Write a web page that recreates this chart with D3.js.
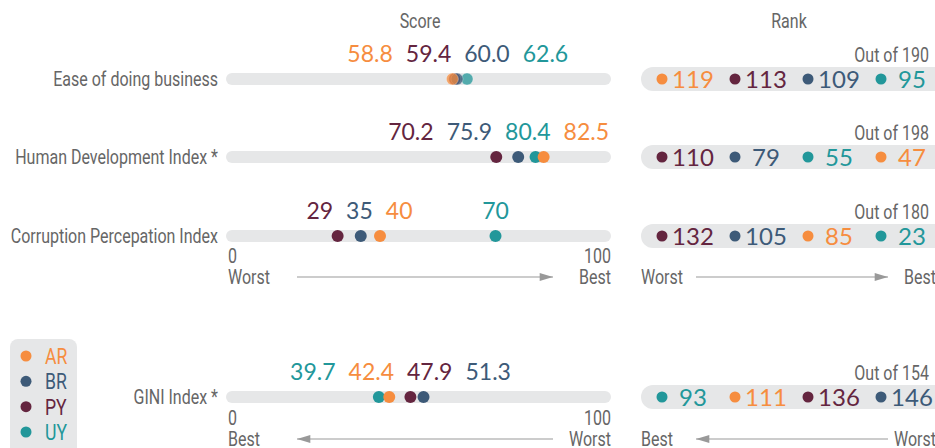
<!DOCTYPE html>
<html>
<head>
<meta charset="utf-8">
<script src="https://cdn.jsdelivr.net/npm/d3@7"></script>
<style>
  body { margin: 0; background: #fff; }
  .cond { font-family: Roboto, "Liberation Sans", sans-serif; fill: #666; }
  .num { font-family: Lato, "Open Sans", sans-serif; }
</style>
</head>
<body>
<svg width="935" height="448"></svg>
<script>
// countries
const countries = ['AR', 'BR', 'PY', 'UY'];
const colors = ['#f68d3f', '#3d5a78', '#64253f', '#22979a'];

// indicators (top three: higher score = better, GINI: lower = better)
const indicators = ['Ease of doing business', 'Human Development Index *', 'Corruption Percepation Index', 'GINI Index *'];
const scoreAR = [58.8, 82.5, 40, 42.4];
const scoreBR = [60.0, 75.9, 35, 51.3];
const scorePY = [59.4, 70.2, 29, 47.9];
const scoreUY = [62.6, 80.4, 70, 39.7];
const rankAR = [119, 47, 85, 111];
const rankBR = [109, 79, 105, 146];
const rankPY = [113, 110, 132, 136];
const rankUY = [95, 55, 23, 93];
const outOf = [190, 198, 180, 154];
const lowerIsBetter = [false, false, false, true];

const scores = [scoreAR, scoreBR, scorePY, scoreUY];
const ranks = [rankAR, rankBR, rankPY, rankUY];

var svg = d3.select('svg');

var x = d3.scaleLinear().domain([0, 100]).range([226, 611]);
var rowY = d3.scaleOrdinal().domain(indicators).range([79, 157, 236, 397]);
var slot = d3.scaleBand().domain([0, 1, 2, 3]).range([651, 943]);
var color = d3.scaleOrdinal().domain(countries).range(colors);

// condensed-looking gray text (squeezed Roboto)
function cond(parent, px, py, str, size, anchor) {
  return parent.append('text')
    .attr('class', 'cond')
    .attr('transform', 'translate(' + px + ',' + py + ') scale(0.8,1)')
    .attr('text-anchor', anchor || 'start')
    .style('font-size', (size || 20) + 'px')
    .text(str);
}

// headers
cond(svg, 420, 28, 'Score', 20, 'middle');
cond(svg, 789, 28, 'Rank', 20, 'middle');

indicators.forEach(function(name, i) {
  var y = rowY(name);
  var g = svg.append('g');

  cond(g, 218, y + 7, name, 20, 'end');

  // score track
  g.append('rect')
    .attr('x', x(0)).attr('y', y - 6)
    .attr('width', x(100) - x(0)).attr('height', 12)
    .attr('rx', 6).attr('fill', '#e6e7e8');

  var data = countries.map(function(c, k) {
    return { c: c, v: scores[k][i], r: ranks[k][i] };
  });
  var byVal = data.slice().sort(function(a, b) { return a.v - b.v; });
  var spread = d3.max(data, d => d.v) - d3.min(data, d => d.v);

  g.selectAll('circle.dot')
    .data(data.slice().reverse())
    .enter()
    .append('circle')
    .attr('class', 'dot')
    .attr('cx', d => x(d.v))
    .attr('cy', y)
    .attr('r', 6)
    .attr('fill', d => color(d.c))
    .attr('fill-opacity', spread < 5 ? 0.75 : 1)
    .attr('stroke', spread < 5 ? '#ffffff' : 'none')
    .attr('stroke-opacity', 0.3);

  // value labels, spread out so they do not overlap
  var labels = g.selectAll('text.val')
    .data(byVal)
    .enter()
    .append('text')
    .attr('class', 'num val')
    .attr('y', y - 17)
    .attr('text-anchor', 'middle')
    .style('font-size', '23px')
    .attr('fill', d => color(d.c))
    .text(d => d.v.toFixed(d.v % 1 === 0 && i === 2 ? 0 : 1));

  var gap = 13;
  var items = byVal.map(function(d, k) {
    return { x: x(d.v), w: labels.nodes()[k].getComputedTextLength() };
  });
  var groups = items.map(function(it) {
    return { items: [it] };
  });
  var merged = true;
  while (merged) {
    merged = false;
    groups.forEach(function(gr) {
      var n = gr.items.length;
      var t = d3.mean(gr.items, d => d.x);
      gr.width = d3.sum(gr.items, d => d.w) + gap * (n - 1);
      gr.left = Math.min(t - gr.width / 2, x(100) - 2 - gr.width);
    });
    for (var k = 0; k < groups.length - 1; k++) {
      var a = groups[k], b = groups[k + 1];
      if (a.left + a.width + gap > b.left) {
        a.items = a.items.concat(b.items);
        groups.splice(k + 1, 1);
        merged = true;
        break;
      }
    }
  }
  groups.forEach(function(gr) {
    var cur = gr.left;
    gr.items.forEach(function(it) {
      it.cx = cur + it.w / 2;
      cur += it.w + gap;
    });
  });
  labels.attr('x', (d, k) => items[k].cx);

  // rank pill
  g.append('rect')
    .attr('x', 641).attr('y', y - 12)
    .attr('width', 310).attr('height', 24)
    .attr('rx', 12).attr('fill', '#e6e7e8');

  cond(g, 929, y - 17, 'Out of ' + outOf[i], 20, 'end');

  var byRank = data.slice().sort(function(a, b) {
    return lowerIsBetter[i] ? a.r - b.r : b.r - a.r;
  });
  var items2 = g.selectAll('g.rank')
    .data(byRank)
    .enter()
    .append('g')
    .attr('class', 'rank')
    .attr('transform', (d, k) => 'translate(' + (slot(k) + 11) + ',' + y + ')');
  items2.append('circle')
    .attr('r', 5.5)
    .attr('fill', d => color(d.c));
  items2.append('text')
    .attr('class', 'num')
    .attr('x', 31).attr('y', 8.5)
    .attr('text-anchor', 'middle')
    .style('font-size', '24px')
    .attr('fill', d => color(d.c))
    .text(d => d.r);
});

// direction hints under the CPI row and the GINI row
svg.append('defs').append('marker')
  .attr('id', 'arr')
  .attr('viewBox', '0 0 10 6')
  .attr('refX', 10).attr('refY', 3)
  .attr('markerWidth', 16).attr('markerHeight', 8)
  .attr('markerUnits', 'userSpaceOnUse')
  .attr('orient', 'auto')
  .append('path').attr('d', 'M0,0L10,3L0,6Z').attr('fill', '#999');

function hints(y, leftWord, rightWord, pointLeft) {
  var g = svg.append('g');
  cond(g, x(0) + 2, y, '0', 20);
  cond(g, x(0) + 2, y + 21, leftWord, 20);
  cond(g, x(100), y, '100', 20, 'end');
  cond(g, x(100), y + 21, rightWord, 20, 'end');
  var a = [297, 553];
  g.append('line')
    .attr('x1', pointLeft ? a[1] : a[0]).attr('x2', pointLeft ? a[0] : a[1])
    .attr('y1', y + 14).attr('y2', y + 14)
    .attr('stroke', '#999').attr('stroke-width', 1)
    .attr('marker-end', 'url(#arr)');

  cond(g, 641, y + 21, leftWord, 20);
  cond(g, 936, y + 21, rightWord, 20, 'end');
  var b = [696, 888];
  g.append('line')
    .attr('x1', pointLeft ? b[1] : b[0]).attr('x2', pointLeft ? b[0] : b[1])
    .attr('y1', y + 14).attr('y2', y + 14)
    .attr('stroke', '#999').attr('stroke-width', 1)
    .attr('marker-end', 'url(#arr)');
}
hints(263, 'Worst', 'Best', false);
hints(425, 'Best', 'Worst', true);

// legend
var legend = svg.append('g');
legend.append('rect')
  .attr('x', 10).attr('y', 339).attr('width', 67).attr('height', 120)
  .attr('rx', 8).attr('fill', '#e6e7e8');
var legY = d3.scalePoint().domain(countries).range([356, 432]);
legend.selectAll('circle')
  .data(countries).enter().append('circle')
  .attr('cx', 26).attr('cy', d => legY(d)).attr('r', 5.5)
  .attr('fill', d => color(d));
countries.forEach(function(c) {
  cond(legend, 45, legY(c) + 8, c, 22).style('fill', color(c));
});
</script>
</body>
</html>
